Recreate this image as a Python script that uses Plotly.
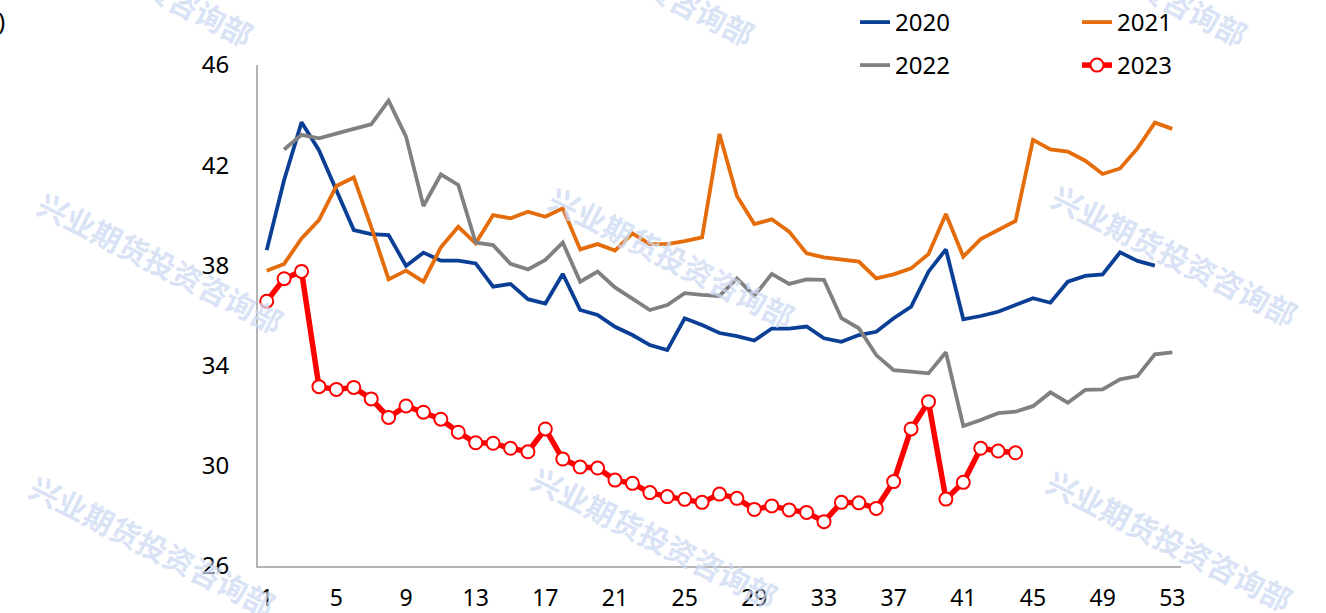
import plotly.graph_objects as go

# Weekly index values by year
weeks = list(range(1, 54))

y2020 = [38.61, 41.41, 43.71, 42.60, 41.00, 39.41, 39.25, 39.21, 37.98, 38.51,
         38.19, 38.19, 38.08, 37.15, 37.26, 36.65, 36.48, 37.66, 36.22, 36.02,
         35.55, 35.22, 34.82, 34.62, 35.89, 35.62, 35.30, 35.18, 35.00, 35.48,
         35.48, 35.56, 35.09, 34.95, 35.22, 35.35, 35.89, 36.35, 37.75, 38.64,
         35.85, 35.98, 36.15, 36.42, 36.69, 36.51, 37.35, 37.58, 37.64, 38.52,
         38.18, 37.99]

y2021 = [37.79, 38.06, 39.08, 39.81, 41.17, 41.51, 39.54, 37.44, 37.79, 37.35,
         38.72, 39.54, 38.88, 40.01, 39.88, 40.14, 39.94, 40.28, 38.64, 38.85,
         38.59, 39.28, 38.85, 38.85, 38.97, 39.12, 43.25, 40.77, 39.65, 39.84,
         39.35, 38.48, 38.32, 38.22, 38.15, 37.48, 37.64, 37.88, 38.45, 40.05,
         38.35, 39.05, 39.39, 39.77, 43.01, 42.63, 42.54, 42.18, 41.65, 41.87,
         42.67, 43.70, 43.45]

y2022 = [None, 42.63, 43.21, 43.07, 43.27, 43.45, 43.63, 44.58, 43.14, 40.37,
         41.63, 41.21, 38.91, 38.81, 38.06, 37.84, 38.22, 38.91, 37.35, 37.75,
         37.12, 36.69, 36.22, 36.42, 36.89, 36.82, 36.78, 37.48, 36.78, 37.66,
         37.26, 37.44, 37.42, 35.89, 35.49, 34.42, 33.82, 33.76, 33.69, 34.53,
         31.59, 31.83, 32.10, 32.16, 32.38, 32.93, 32.52, 33.03, 33.05, 33.45,
         33.58, 34.45, 34.53]

y2023 = [36.57, 37.47, 37.76, 33.16, 33.05, 33.13, 32.67, 31.93, 32.39, 32.14,
         31.86, 31.34, 30.92, 30.90, 30.70, 30.56, 31.47, 30.27, 29.95, 29.91,
         29.43, 29.30, 28.93, 28.77, 28.66, 28.54, 28.87, 28.70, 28.26, 28.40,
         28.24, 28.14, 27.77, 28.54, 28.52, 28.30, 29.37, 31.47, 32.56, 28.67,
         29.34, 30.70, 30.59, 30.52]

x_ticks = list(range(1, 54, 4))
y_ticks = [26, 30, 34, 38, 42, 46]

W, H = 1326, 613
ML, MR, MT, MB = 257.5, 145, 65, 47
PW, PH = W - ML - MR, H - MT - MB
FONT = "Noto Sans, Open Sans, sans-serif"


def px_x(px):
    """Page pixel column -> paper x."""
    return (px - ML) / PW


def px_y(py):
    """Page pixel row -> paper y."""
    return (H - MB - py) / PH


fig = go.Figure()

fig.add_trace(go.Scatter(x=weeks[:len(y2020)], y=y2020, name="2020", mode="lines",
                         line=dict(color="#0a3f95", width=3.8), legend="legend"))
fig.add_trace(go.Scatter(x=weeks[:len(y2021)], y=y2021, name="2021", mode="lines",
                         line=dict(color="#e46c0a", width=3.8), legend="legend"))
fig.add_trace(go.Scatter(x=weeks[:len(y2022)], y=y2022, name="2022", mode="lines",
                         line=dict(color="#808080", width=3.8), legend="legend2"))
fig.add_trace(go.Scatter(x=weeks[:len(y2023)], y=y2023, name="2023", mode="lines+markers",
                         line=dict(color="#ff0000", width=5.5),
                         marker=dict(symbol="circle", size=13, color="white",
                                     line=dict(color="#ff0000", width=2)),
                         legend="legend2"))

# Diagonal watermark text, tiled across the page
wm_text = "兴业期货投资咨询部"
wm_centers = [(130, -25), (632, -25), (1125, -25),
              (160, 262), (672, 257), (1175, 255),
              (152, 545), (655, 537), (1170, 540)]
annotations = []
for cx, cy in wm_centers:
    annotations.append(dict(
        text=wm_text, x=px_x(cx), y=px_y(cy), xref="paper", yref="paper",
        xanchor="center", yanchor="middle", showarrow=False, textangle=27,
        font=dict(family="Noto Sans CJK SC", size=30, color="rgba(205,218,242,0.75)",
                  weight="bold")))

# Unit mark clipped at the top-left edge
annotations.append(dict(text=")", x=px_x(6), y=px_y(20), xref="paper", yref="paper",
                        xanchor="right", yanchor="middle", showarrow=False,
                        font=dict(family=FONT, size=24, color="black")))

fig.update_layout(
    width=W, height=H,
    margin=dict(l=ML, r=MR, t=MT, b=MB, autoexpand=False),
    paper_bgcolor="white", plot_bgcolor="white",
    font=dict(family=FONT, size=24, color="black"),
    showlegend=True,
    legend=dict(orientation="h", x=855 / W, y=1.0, xref="container", yref="container",
                xanchor="left", yanchor="top", entrywidth=177, entrywidthmode="pixels",
                font=dict(family=FONT, size=24), bgcolor="rgba(0,0,0,0)", tracegroupgap=0),
    legend2=dict(orientation="h", x=855 / W, y=1 - 43 / H, xref="container", yref="container",
                 xanchor="left", yanchor="top", entrywidth=177, entrywidthmode="pixels",
                 font=dict(family=FONT, size=24), bgcolor="rgba(0,0,0,0)", tracegroupgap=0),
    annotations=annotations,
    xaxis=dict(range=[0.5, 53.5], tickmode="array", tickvals=x_ticks,
               ticktext=[str(v) for v in x_ticks], showgrid=False, zeroline=False,
               showline=True, linecolor="#b4b4b4", linewidth=2, ticks="",
               ticklabelstandoff=10, automargin=False,
               tickfont=dict(family=FONT, size=23)),
    yaxis=dict(range=[26, 46], tickmode="array", tickvals=y_ticks,
               ticktext=[str(v) for v in y_ticks], showgrid=False, zeroline=False,
               showline=True, linecolor="#b4b4b4", linewidth=2, ticks="",
               ticklabelstandoff=22, automargin=False,
               tickfont=dict(family=FONT, size=24)),
)

fig.write_html("out.html")
